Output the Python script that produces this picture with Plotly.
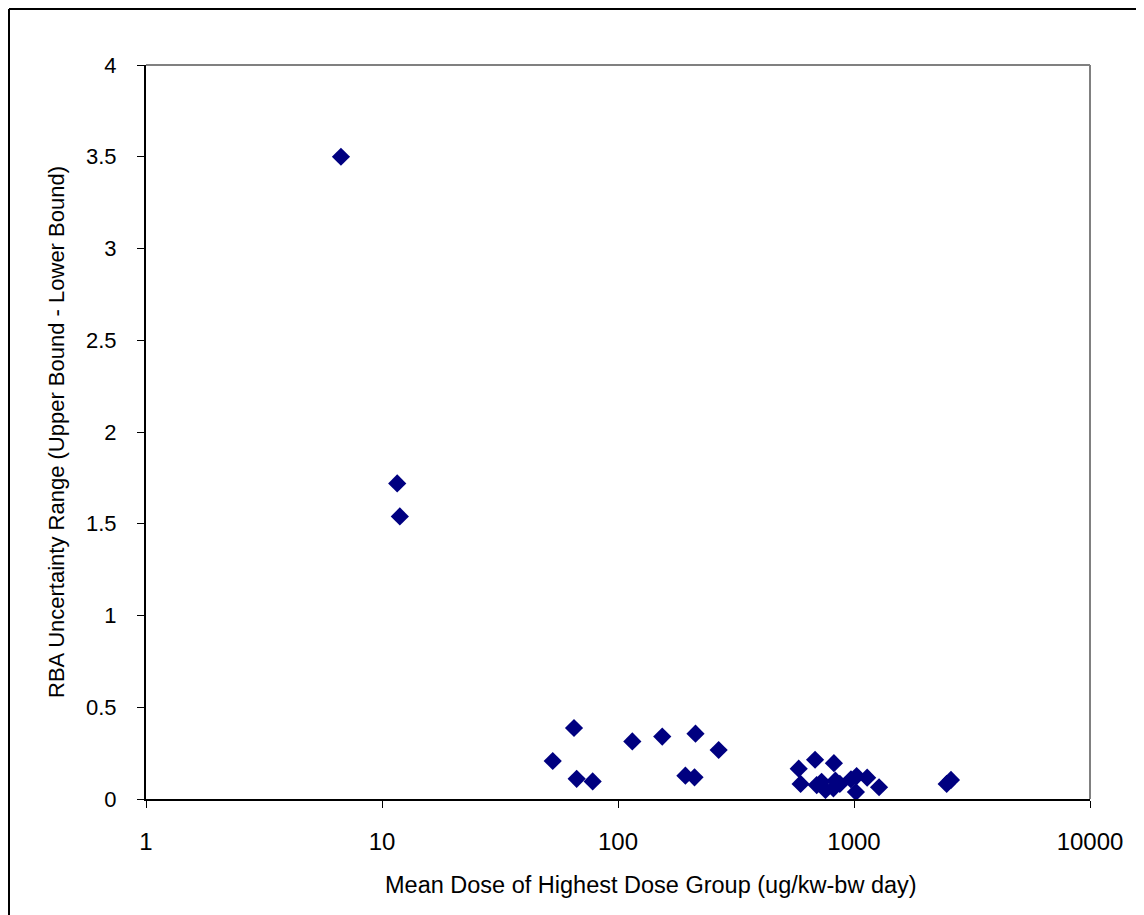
import plotly.graph_objects as go

dose = [6.7, 11.6, 11.9,
        65.1, 52.9, 66.8, 78.1, 115, 154, 213, 267, 193, 211,
        583, 684, 822, 594, 729, 757, 834, 818, 871, 695, 971, 1026, 1019, 1137, 1277,
        2470, 2576]
rba_range = [3.50, 1.72, 1.54,
             0.387, 0.207, 0.11, 0.096, 0.314, 0.34, 0.356, 0.267, 0.127, 0.118,
             0.165, 0.214, 0.195, 0.082, 0.094, 0.049, 0.10, 0.058, 0.082, 0.076, 0.107, 0.125, 0.038, 0.116, 0.064,
             0.082, 0.104]

x_ticks = [1, 10, 100, 1000, 10000]
x_tick_labels = ["1", "10", "100", "1000", "10000"]
y_ticks = [0, 0.5, 1, 1.5, 2, 2.5, 3, 3.5, 4]
y_tick_labels = ["0", "0.5", "1", "1.5", "2", "2.5", "3", "3.5", "4"]

FONT = "Liberation Sans, Arial, sans-serif"

W, H = 1136, 907
ML, MR, MT, MB = 138, 54, 57, 116
PW, PH = W - ML - MR, H - MT - MB

fig = go.Figure()
fig.add_trace(go.Scatter(
    x=dose, y=rba_range, mode="markers",
    marker=dict(symbol="diamond", size=14, color="#000080",
                line=dict(width=0)),
    showlegend=False,
))

fig.update_layout(
    width=W, height=H,
    margin=dict(l=ML, r=MR, t=MT, b=MB),
    paper_bgcolor="white", plot_bgcolor="white",
    font=dict(family=FONT, size=22, color="black"),
    xaxis=dict(
        type="log", range=[0, 4],
        tickvals=x_ticks, ticktext=x_tick_labels,
        tickfont=dict(size=24),
        showgrid=False, zeroline=False,
        showline=True, linecolor="black", linewidth=2,
        ticks="outside", ticklen=7, tickcolor="black", tickwidth=1,
        ticklabelstandoff=13,
    ),
    yaxis=dict(
        range=[0, 4],
        tickvals=y_ticks, ticktext=y_tick_labels,
        tickfont=dict(size=22),
        showgrid=False, zeroline=False,
        showline=True, linecolor="black", linewidth=2,
        ticks="outside", ticklen=7, tickcolor="black", tickwidth=1,
        ticklabelstandoff=16,
        title=dict(text="RBA Uncertainty Range (Upper Bound - Lower Bound)",
                   font=dict(size=22), standoff=15),
    ),
    annotations=[
        dict(text="Mean Dose of Highest Dose Group (ug/kw-bw day)",
             xref="paper", yref="paper", x=(651 - 146) / PW, y=0,
             xanchor="center", yanchor="middle", yshift=-86,
             showarrow=False, font=dict(size=23.5)),
    ],
    shapes=[
        # gray top and right plot-area borders
        dict(type="line", xref="paper", yref="paper", x0=0, x1=1, y0=1, y1=1,
             line=dict(color="#808080", width=2), layer="below"),
        dict(type="line", xref="paper", yref="paper", x0=1, x1=1, y0=0, y1=1,
             line=dict(color="#808080", width=2), layer="below"),
        # outer chart frame (top and left edges visible)
        dict(type="line", xref="paper", yref="paper",
             x0=-137 / PW, x1=1.2, y0=1 + 56 / PH, y1=1 + 56 / PH,
             line=dict(color="black", width=2)),
        dict(type="line", xref="paper", yref="paper",
             x0=-137 / PW, x1=-137 / PW, y0=-0.3, y1=1 + 56 / PH,
             line=dict(color="black", width=2)),
    ],
)

fig.write_html("out.html")
